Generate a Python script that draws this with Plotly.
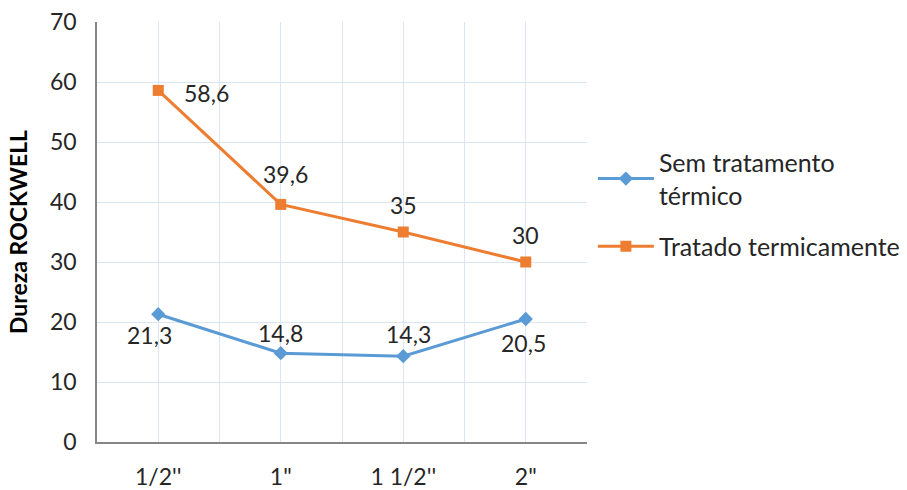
import plotly.graph_objects as go

categories = ["1/2''", '1"', "1 1/2''", '2"']
sem_tratamento = [21.3, 14.8, 14.3, 20.5]
tratado = [58.6, 39.6, 35, 30]

# label offsets (px) relative to each marker
sem_offsets = [(-9, -21), (0, 20), (5, 22), (-2, -24)]
trat_offsets = [(48, -3), (5, 30), (0, 27), (0, 27)]

def fmt(v):
    return f"{v:g}".replace(".", ",")

x = list(range(len(categories)))
font_family = "Lato, 'Open Sans', sans-serif"
text_color = "#262626"
fs = 23

fig = go.Figure()
fig.add_trace(go.Scatter(
    x=x, y=sem_tratamento, mode="lines+markers",
    name="Sem tratamento<br>térmico", legendgroup="a",
    line=dict(color="#5B9BD5", width=3),
    marker=dict(symbol="diamond", size=11, color="#5B9BD5"),
    cliponaxis=False,
))
fig.add_trace(go.Scatter(
    x=x, y=tratado, mode="lines+markers",
    name="Tratado termicamente", legendgroup="b",
    line=dict(color="#ED7D31", width=3),
    marker=dict(symbol="square", size=11, color="#ED7D31"),
    cliponaxis=False,
))

# data labels
for series, offsets in ((sem_tratamento, sem_offsets), (tratado, trat_offsets)):
    for xi, v, (dx, dy) in zip(x, series, offsets):
        fig.add_annotation(x=xi, y=v, text=fmt(v), showarrow=False,
                           xshift=dx, yshift=dy,
                           font=dict(size=fs, color=text_color, family=font_family))

grid_color = "#DAE6F3"
fig.update_layout(
    width=907, height=490,
    margin=dict(l=97, r=320, t=22, b=48, autoexpand=False),
    paper_bgcolor="white", plot_bgcolor="white",
    font=dict(family=font_family, color=text_color, size=fs),
    showlegend=True,
    legend=dict(x=1.012, y=0.72, xanchor="left", yanchor="top",
                font=dict(size=25, color=text_color, family=font_family),
                tracegroupgap=16, itemwidth=56),
    xaxis=dict(
        range=[-0.5, 3.5], tickmode="array", tickvals=x, ticktext=categories,
        showgrid=True, gridcolor=grid_color, gridwidth=1,
        minor=dict(tickmode="linear", tick0=-0.5, dtick=1, showgrid=True,
                   gridcolor=grid_color, gridwidth=1),
        showline=True, linecolor="#868686", linewidth=1.5,
        ticks="", zeroline=False, ticklabelstandoff=14, automargin=False,
        tickfont=dict(size=fs, color=text_color),
    ),
    yaxis=dict(
        range=[0, 70], tickmode="linear", tick0=0, dtick=10,
        showgrid=True, gridcolor=grid_color, gridwidth=1,
        showline=True, linecolor="#868686", linewidth=1.5,
        ticks="", zeroline=False, ticklabelstandoff=14, automargin=False,
        tickfont=dict(size=fs, color=text_color),
        title=dict(text="<b>Dureza ROCKWELL</b>", font=dict(size=23, color="#000000"),
                   standoff=16),
    ),
)

fig.write_html("out.html")
